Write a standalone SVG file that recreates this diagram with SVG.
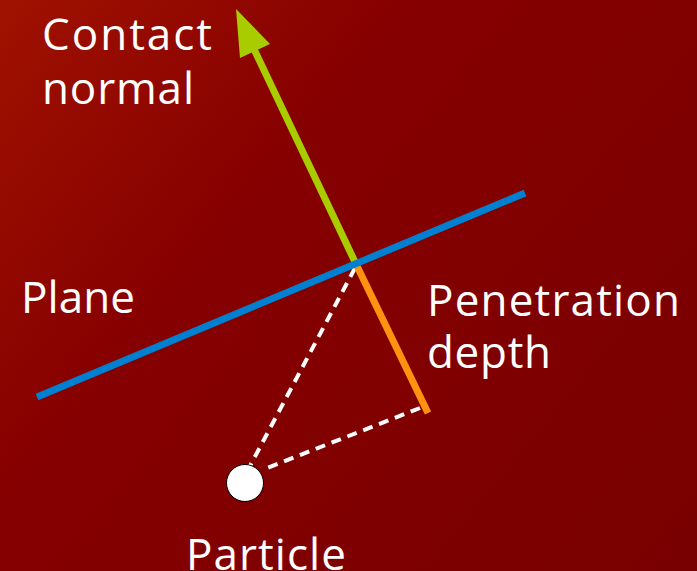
<svg xmlns="http://www.w3.org/2000/svg" width="697" height="571" viewBox="0 0 697 571">
<defs>
<linearGradient id="bg" x1="0" y1="0" x2="697" y2="571" gradientUnits="userSpaceOnUse">
<stop offset="0" stop-color="#a01200"/>
<stop offset="0.35" stop-color="#860000"/>
<stop offset="1" stop-color="#790000"/>
</linearGradient>
<style>
.lbl{font-family:"Open Sans","Lato",sans-serif;font-size:44px;fill:#ffffff;font-weight:400}
.dash{stroke:#ffffff;stroke-width:4;stroke-dasharray:10 7;fill:none}
</style>
</defs>
<rect width="697" height="571" fill="url(#bg)"/>
<g id="connectors">
<line class="dash" x1="355" y1="268" x2="250" y2="466"/>
<line class="dash" x1="420" y1="408" x2="262" y2="470"/>
<line x1="356" y1="264" x2="253" y2="47" stroke="#a8cc00" stroke-width="7"/>
<polygon points="236,9 270,44 240,58" fill="#a8cc00"/>
<line x1="356" y1="264" x2="428" y2="413" stroke="#ff9211" stroke-width="7"/>
</g>
<g id="plane">
<line x1="37" y1="397" x2="525" y2="193" stroke="#0080d0" stroke-width="7"/>
<text class="lbl" x="21" y="313" textLength="114" lengthAdjust="spacing">Plane</text>
</g>
<g id="normal">
<text class="lbl" x="42" y="50" textLength="170" lengthAdjust="spacing">Contact</text>
<text class="lbl" x="42" y="104" textLength="152" lengthAdjust="spacing">normal</text>
</g>
<g id="depth">
<text class="lbl" x="427" y="316" textLength="253" lengthAdjust="spacing">Penetration</text>
<text class="lbl" x="427" y="368" textLength="124" lengthAdjust="spacing">depth</text>
</g>
<g id="particle">
<circle cx="245" cy="483" r="18.5" fill="#ffffff" stroke="#000000" stroke-width="1"/>
<text class="lbl" x="186" y="570" textLength="160" lengthAdjust="spacing">Particle</text>
</g>
</svg>
